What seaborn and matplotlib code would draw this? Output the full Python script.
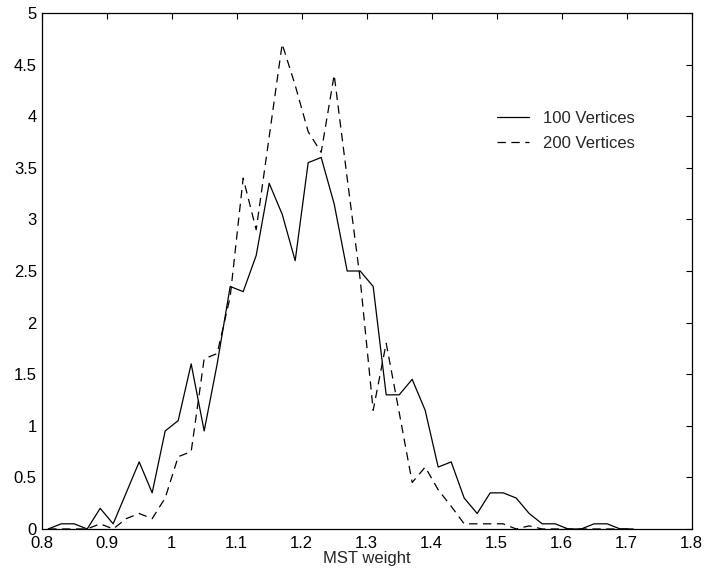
import numpy as np
import pandas as pd
import matplotlib
matplotlib.use("Agg")
import matplotlib.pyplot as plt
import seaborn as sns
from matplotlib.ticker import FuncFormatter, MultipleLocator

# bin centres (MST weight)
x_vals = [0.81, 0.83, 0.85, 0.87, 0.89, 0.91, 0.93, 0.95, 0.97, 0.99,
          1.01, 1.03, 1.05, 1.07, 1.09, 1.11, 1.13, 1.15, 1.17, 1.19,
          1.21, 1.23, 1.25, 1.27, 1.29, 1.31, 1.33, 1.35, 1.37, 1.39,
          1.41, 1.43, 1.45, 1.47, 1.49, 1.51, 1.53, 1.55, 1.57, 1.59,
          1.61, 1.63, 1.65, 1.67, 1.69, 1.71]

v100 = [0.0, 0.05, 0.05, 0.0, 0.2, 0.05, 0.35, 0.65, 0.35, 0.95,
        1.05, 1.6, 0.95, 1.6, 2.35, 2.3, 2.65, 3.35, 3.05, 2.6,
        3.55, 3.6, 3.15, 2.5, 2.5, 2.35, 1.3, 1.3, 1.45, 1.15,
        0.6, 0.65, 0.3, 0.15, 0.35, 0.35, 0.3, 0.15, 0.05, 0.05,
        0.0, 0.0, 0.05, 0.05, 0.0, 0.0]

v200 = [0.0, 0.0, 0.0, 0.0, 0.05, 0.0, 0.1, 0.15, 0.1, 0.3,
        0.7, 0.75, 1.65, 1.7, 2.25, 3.4, 2.9, 3.8, 4.7, 4.3,
        3.85, 3.65, 4.4, 3.4, 2.42, 1.15, 1.8, 1.13, 0.45, 0.6,
        0.38, 0.22, 0.05, 0.05, 0.05, 0.05, 0.0, 0.03, 0.0, 0.0,
        0.0, 0.0, 0.0, 0.0, 0.0, 0.0]

series_labels = ["100 Vertices", "200 Vertices"]
x_ticks = [0.8, 0.9, 1.0, 1.1, 1.2, 1.3, 1.4, 1.5, 1.6, 1.7, 1.8]
x_label = "MST weight"

sns.set_style("white")
plt.rcParams['font.family'] = ['Liberation Sans', 'DejaVu Sans']
plt.rcParams['lines.scale_dashes'] = False

df = pd.DataFrame({
    "x": x_vals * 2,
    "y": v100 + v200,
    "series": [series_labels[0]] * len(x_vals) + [series_labels[1]] * len(x_vals),
})

fig = plt.figure(figsize=(7.04, 5.71), dpi=100)
ax = fig.add_axes([0.0592, 0.0736, 0.9233, 0.9036])

sns.lineplot(data=df[df.series == series_labels[0]], x="x", y="y", ax=ax,
             color="black", linewidth=0.9, label=series_labels[0])
sns.lineplot(data=df[df.series == series_labels[1]], x="x", y="y", ax=ax,
             color="black", linewidth=0.9, linestyle=(0, (6, 4)),
             label=series_labels[1])

ax.set_xlim(0.8, 1.8)
ax.set_ylim(0, 5)
ax.set_xticks(x_ticks)
ax.yaxis.set_major_locator(MultipleLocator(0.5))
fmt = FuncFormatter(lambda v, p: "%g" % round(v, 2))
ax.xaxis.set_major_formatter(fmt)
ax.yaxis.set_major_formatter(fmt)
ax.set_xlabel(x_label, fontsize=12, labelpad=0)
ax.set_ylabel("")
ax.tick_params(direction="in", length=4.5, width=0.8, top=True, right=True,
               labelsize=12, colors="black")
ax.tick_params(axis="x", pad=5)
ax.tick_params(axis="y", pad=3.5)
for s in ax.spines.values():
    s.set_visible(True)
    s.set_color("black")
    s.set_linewidth(0.9)

leg = ax.legend(loc="upper left", bbox_to_anchor=(0.677, 0.84), frameon=False,
                fontsize=12, handlelength=1.94, handletextpad=0.82,
                labelspacing=0.62)

fig.savefig("out.png", dpi=100)
